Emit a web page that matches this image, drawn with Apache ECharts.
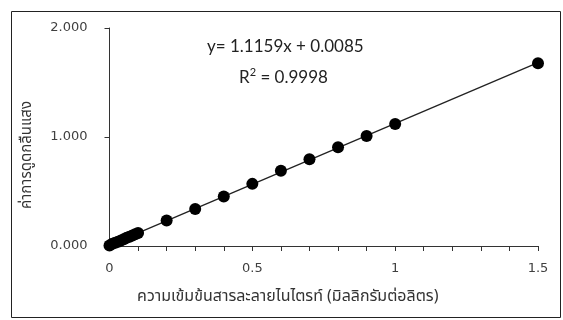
<!DOCTYPE html>
<html>
<head>
<meta charset="utf-8">
<script src="https://cdn.jsdelivr.net/npm/echarts@6/dist/echarts.min.js"></script>
<style>
html,body{margin:0;padding:0;background:#fff;}
#c{width:563px;height:320px;}
</style>
</head>
<body>
<div id="c"></div>
<script>
// Data
const concentration = [0, 0.01, 0.02, 0.03, 0.04, 0.05, 0.06, 0.07, 0.08, 0.09, 0.1, 0.2, 0.3, 0.4, 0.5, 0.6, 0.7, 0.8, 0.9, 1.0, 1.5];
const absorbance    = [0.005, 0.02, 0.03, 0.04, 0.05, 0.062, 0.075, 0.085, 0.097, 0.108, 0.12, 0.235, 0.34, 0.455, 0.57, 0.69, 0.795, 0.905, 1.01, 1.12, 1.677];
const trendX = [0, 1.5];
const trendY = [0.0085, 1.682];
const xTickLabels = ['0', '0.5', '1', '1.5'];
const yTickLabels = ['0.000', '1.000', '2.000'];
const xTitle = 'ความเข้มข้นสารละลายไนไตรท์ (มิลลิกรัมต่อลิตร)';
const yTitle = 'ค่าการดูดกลืนแสง';
const equation = 'y= 1.1159x + 0.0085';
const r2Value = '0.9998';

const thaiFont = "Tahoma, 'Noto Sans Thai', 'Noto Sans', 'DejaVu Sans', sans-serif";
const chart = echarts.init(document.getElementById('c'));
chart.setOption({
  animation: false,
  backgroundColor: '#fff',
  grid: {left: 109.5, right: 25, top: 28, bottom: 74, containLabel: false},
  xAxis: {
    type: 'value', min: 0, max: 1.5, interval: 0.5,
    axisLine: {lineStyle: {color: '#333', width: 1}},
    axisTick: {show: true, length: 5, lineStyle: {color: '#333'}},
    minorTick: {show: true, splitNumber: 5, length: 5, lineStyle: {color: '#333'}},
    splitLine: {show: false},
    axisLabel: {color: '#404040', fontFamily: 'DejaVu Sans', fontSize: 13, margin: 16,
      formatter: (v) => xTickLabels.find(t => Math.abs(parseFloat(t) - v) < 1e-9) || ''},
    name: xTitle, nameLocation: 'middle', nameGap: 44,
    nameTextStyle: {color: '#333', fontFamily: thaiFont, fontSize: 16, padding: [0, 72, 0, 0]}
  },
  yAxis: {
    type: 'value', min: 0, max: 2, interval: 1,
    axisLine: {show: true, lineStyle: {color: '#333', width: 1}},
    axisTick: {show: true, length: 5, lineStyle: {color: '#333'}},
    splitLine: {show: false},
    axisLabel: {color: '#404040', fontFamily: 'DejaVu Sans', fontSize: 13, margin: 22,
      formatter: (v) => yTickLabels[Math.round(v)]},
    name: yTitle, nameLocation: 'middle', nameGap: 74,
    nameTextStyle: {color: '#333', fontFamily: thaiFont, fontSize: 15, padding: [0, 36, 0, 0]}
  },
  series: [
    {
      type: 'line', data: trendX.map((x, i) => [x, trendY[i]]),
      showSymbol: false, symbol: 'none',
      lineStyle: {color: '#222', width: 1.3}, z: 2
    },
    {
      type: 'scatter', data: concentration.map((x, i) => [x, absorbance[i]]),
      symbol: 'circle', symbolSize: 12,
      itemStyle: {color: '#000', opacity: 1}, z: 3
    }
  ],
  graphic: [
    {type: 'rect', shape: {x: 11.5, y: 11.5, width: 549, height: 306},
     style: {fill: 'none', stroke: '#222', lineWidth: 1}, silent: true, z: -1},
    {type: 'text', left: 207, top: 38,
     style: {text: equation, font: "17px Lato, 'DejaVu Sans', sans-serif", fill: '#222'}},
    {type: 'text', left: 239, top: 67,
     style: {text: '{a|R}{s|2}{a| = ' + r2Value + '}',
       rich: {a: {font: "17px Lato, sans-serif", fill: '#222', verticalAlign: 'bottom'},
              s: {font: "11px Lato, sans-serif", fill: '#222', verticalAlign: 'top', padding: [0,0,8,0]}}}}
  ]
});
</script>
</body>
</html>
